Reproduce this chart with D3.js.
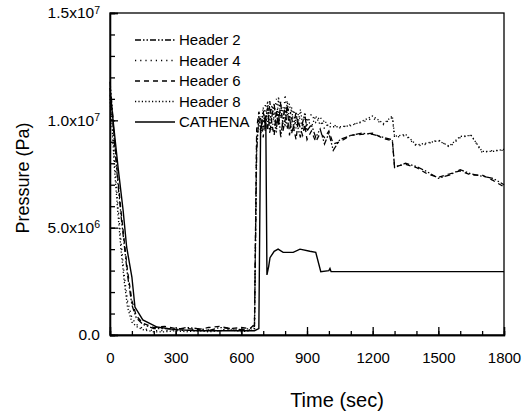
<!DOCTYPE html>
<html>
<head>
<meta charset="utf-8">
<script src="https://cdn.jsdelivr.net/npm/d3@7"></script>
<style>
  body { margin: 0; background: #fff; }
  svg { font-family: "Liberation Sans", Arial, sans-serif; }
  .axis path, .axis line { stroke: #000; stroke-width: 1.3; }
  .axis text { fill: #000; }
</style>
</head>
<body>
<svg id="chart" width="526" height="417"></svg>
<script>
// values in units of 10^6 Pa
const timeH = [0, 10, 20, 35, 50, 65, 80, 100, 120, 150, 200,
  250, 300, 350, 400, 450, 500, 550, 600, 640, 660,
  670, 680,
  690, 700, 710, 720, 730, 740, 750, 760, 770, 780, 790, 800, 810, 820, 830, 840, 850, 860, 870, 880, 890, 900, 920, 940, 960, 980, 1000,
  1020, 1050, 1100, 1150, 1200, 1250, 1290, 1300, 1350, 1400, 1450, 1500, 1550, 1600, 1650, 1700, 1750, 1800]

const header2 = [11.8, 10.6, 9.0, 7.2, 5.6, 4.2, 2.8, 1.4, 0.8, 0.5, 0.3,
  0.3, 0.25, 0.35, 0.3, 0.2, 0.35, 0.3, 0.25, 0.3, 0.4,
  8.5, 10.2,
  9.6, 10.4, 9.8, 10.6, 9.4, 10.2, 10.8, 9.6, 10.4, 9.2, 10.0, 10.6, 9.6, 10.2, 9.4, 9.8, 10.4, 9.6, 9.2, 9.9, 10.3, 9.5, 9.8, 9.2, 9.6, 8.9, 9.4,
  8.6, 9.1, 9.3, 9.4, 9.35, 9.2, 9.1, 7.8, 8.0, 7.85, 7.6, 7.3, 7.45, 7.7, 7.5, 7.4, 7.3, 7.0]

const header4 = [11.5, 10.0, 8.2, 6.2, 4.4, 2.8, 1.6, 0.8, 0.5, 0.3, 0.2,
  0.2, 0.25, 0.2, 0.3, 0.25, 0.2, 0.3, 0.2, 0.25, 0.3,
  9.2, 9.8,
  10.2, 9.6, 10.8, 9.9, 10.6, 9.5, 10.3, 11.0, 10.0, 10.7, 9.8, 11.2, 10.2, 10.8, 9.9, 10.5, 9.6, 10.3, 10.0, 9.6, 10.4, 9.8, 10.3, 9.9, 10.2, 9.6, 9.9,
  9.8, 9.65, 9.8, 9.9, 10.1, 9.8, 10.15, 9.2, 9.3, 8.8, 8.9, 9.1, 8.75, 9.2, 9.3, 8.5, 8.6, 8.6]

const header6 = [11.2, 10.4, 9.2, 7.4, 5.8, 4.4, 3.0, 1.6, 0.9, 0.55, 0.35,
  0.4, 0.3, 0.3, 0.25, 0.35, 0.4, 0.3, 0.35, 0.3, 0.5,
  9.6, 10.4,
  10.0, 9.2, 10.3, 9.5, 10.9, 9.8, 9.3, 10.5, 9.7, 10.9, 9.5, 10.0, 10.7, 9.3, 10.1, 9.6, 9.1, 10.0, 9.6, 9.3, 9.8, 9.1, 9.5, 9.0, 9.4, 9.2, 9.5,
  8.9, 9.0, 9.3, 9.35, 9.4, 9.15, 9.05, 7.85, 7.95, 7.8, 7.5, 7.35, 7.5, 7.65, 7.45, 7.45, 7.2, 6.9]

const header8 = [11.0, 9.6, 7.8, 5.8, 4.0, 2.5, 1.3, 0.6, 0.4, 0.25, 0.15,
  0.15, 0.2, 0.15, 0.2, 0.15, 0.2, 0.25, 0.15, 0.2, 0.3,
  9.0, 10.0,
  9.4, 10.6, 9.5, 10.9, 9.8, 10.7, 10.0, 9.4, 11.1, 10.1, 10.6, 9.7, 10.9, 10.0, 10.6, 9.5, 10.2, 9.9, 10.5, 9.8, 9.5, 10.1, 9.7, 10.2, 9.8, 10.0, 9.7,
  9.7, 9.7, 9.75, 9.95, 10.2, 9.85, 10.2, 9.25, 9.35, 8.85, 8.95, 9.05, 8.8, 9.25, 9.3, 8.55, 8.55, 8.65]

const timeC = [0, 14, 37, 60, 76, 100, 114, 150, 215, 300, 400, 500, 600, 660, 680,
  688, 695, 705, 712, 717, 725, 731, 750, 768, 791, 837, 868, 913, 940, 963, 1000, 1005, 1010,
  1100, 1200, 1400, 1600, 1800]
const cathena = [11.5, 10.0, 7.8, 5.8, 4.1, 2.7, 1.3, 0.7, 0.37, 0.25, 0.2, 0.2, 0.2, 0.2, 0.3,
  9.6, 9.9, 10.0, 9.7, 2.8, 3.2, 3.6, 3.9, 4.0, 3.85, 3.85, 4.0, 3.9, 3.85, 2.95, 3.0, 3.1, 2.95,
  2.95, 2.95, 2.95, 2.95, 2.95]

const seriesNames = ['Header 2', 'Header 4', 'Header 6', 'Header 8', 'CATHENA']
const dashes = ['6,2,1.5,2,1.5,2', '1.2,4', '5,4', '1.2,2.2', null]

const xTicks = [0, 300, 600, 900, 1200, 1500, 1800]
const xMinor = d3.range(0, 1801, 100)
const yTicks = [0, 5, 10, 15]
const yMinor = d3.range(0, 16, 1)
const yTickLabels = [['0.0', ''], ['5.0x10', '6'], ['1.0x10', '7'], ['1.5x10', '7']]

const margins = {top: 13, right: 22, bottom: 82, left: 110}
const width = 526 - margins.left - margins.right
const height = 417 - margins.top - margins.bottom

const svg = d3.select('#chart')
const g = svg.append('g')
  .attr('transform', `translate(${margins.left}, ${margins.top})`)

const x = d3.scaleLinear().domain([0, 1800]).range([0, width])
const y = d3.scaleLinear().domain([0, 15]).range([height, 0])

// minor ticks
g.append('g')
  .attr('class', 'axis')
  .attr('transform', `translate(0, ${height})`)
  .call(d3.axisBottom(x).tickValues(xMinor).tickSize(-4).tickFormat(''))
g.append('g')
  .attr('class', 'axis')
  .call(d3.axisLeft(y).tickValues(yMinor).tickSize(-5).tickFormat(''))

// major ticks with labels
const xAxis = g.append('g')
  .attr('class', 'axis')
  .attr('transform', `translate(0, ${height})`)
  .call(d3.axisBottom(x).tickValues(xTicks).tickSize(-8).tickPadding(17).tickFormat(d3.format('d')))
xAxis.selectAll('text').style('font-size', '15px')

const yAxis = g.append('g')
  .attr('class', 'axis')
  .call(d3.axisLeft(y).tickValues(yTicks).tickSize(-8).tickPadding(18))
yAxis.selectAll('text')
  .style('font-size', '15.5px')
  .attr('x', -10)
  .text('')
  .each(function (d, i) {
    const t = d3.select(this)
    t.append('tspan').text(yTickLabels[i][0])
    if (yTickLabels[i][1]) {
      t.append('tspan').attr('dy', '-0.45em').style('font-size', '10.5px').text(yTickLabels[i][1])
    }
  })

// frame
g.append('rect')
  .attr('width', width)
  .attr('height', height)
  .attr('fill', 'none')
  .attr('stroke', '#000')
  .attr('stroke-width', 1.3)

const allSeries = [
  {t: timeH, v: header2},
  {t: timeH, v: header4},
  {t: timeH, v: header6},
  {t: timeH, v: header8},
  {t: timeC, v: cathena},
]

const line = d3.line()
  .x((d) => x(d[0]))
  .y((d) => y(d[1]))

allSeries.forEach((s, i) => {
  g.append('path')
    .datum(s.t.map((t, j) => [t, s.v[j]]))
    .attr('d', line)
    .attr('fill', 'none')
    .attr('stroke', '#000')
    .attr('stroke-width', i === 4 ? 1.4 : 1.3)
    .attr('stroke-dasharray', dashes[i])
})

// legend
const legend = g.append('g').attr('transform', 'translate(25, 27)')
seriesNames.forEach((name, i) => {
  const row = legend.append('g').attr('transform', `translate(0, ${i * 20.5})`)
  row.append('line')
    .attr('x1', 0).attr('x2', 40)
    .attr('stroke', '#000')
    .attr('stroke-width', 1.3)
    .attr('stroke-dasharray', dashes[i])
  row.append('text')
    .attr('x', 44)
    .attr('dy', '0.35em')
    .style('font-size', '15px')
    .text(name)
})

// axis titles
svg.append('text')
  .attr('x', 337)
  .attr('y', 407)
  .attr('text-anchor', 'middle')
  .style('font-size', '20px')
  .text('Time (sec)')

svg.append('text')
  .attr('transform', 'translate(29, 178) rotate(-90)')
  .attr('text-anchor', 'middle')
  .style('font-size', '18px')
  .text('Pressure (Pa)')
</script>
</body>
</html>
